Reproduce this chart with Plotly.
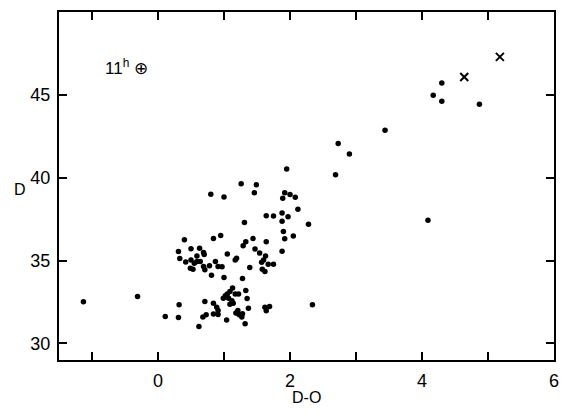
import plotly.graph_objects as go

# Filled-circle observations (D-O, D)
x_dots = [2.73, 2.90, 1.95, 2.69, 1.26, 1.49, 1.46, 0.80, 1.00, 1.92, 2.00, 2.08, 1.89, 2.12,
          1.64, 1.75, 1.88, 1.97, 1.88, 2.28, 1.31, 1.90, 2.05, 1.92, 0.40, 0.84, 0.95, 1.44,
          1.33, 1.29, 1.64, 0.50, 0.63, 1.47, 1.88, 0.31, 0.69, 0.70, 0.59, 0.33, 0.42, 0.50,
          0.55, 0.59, 0.64, 0.49, 0.53, 0.69, 0.71, 0.78, 0.87, 0.91, 0.97, 0.81, 1.05, 1.17,
          1.19, 1.54, 1.63, 1.60, 1.57, 1.67, 1.75, 1.58, 1.62, 1.39, 1.00, 1.28, 1.13, 1.09,
          1.05, 1.02, 0.99, 1.07, 1.17, 1.22, 1.33, 1.35, 1.12, 1.14, 1.09, 0.32, 0.71, 0.84,
          0.89, 0.91, 1.21, 1.18, 1.23, 1.28, 1.37, 1.62, 1.69, 1.64, 2.34, 0.73, 0.84, 0.91,
          0.68, 1.04, 1.27, 1.32, 0.62, 0.31, 0.11, 4.30, 4.17, 4.30, 4.87, 3.44, 4.09, -1.13,
          -0.31]
y_dots = [42.07, 41.43, 40.52, 40.18, 39.64, 39.58, 39.10, 39.00, 38.84, 39.10, 38.98, 38.82,
          38.76, 38.10, 37.71, 37.69, 37.87, 37.65, 37.37, 37.19, 37.29, 36.75, 36.49, 36.31,
          36.25, 36.33, 36.51, 36.33, 36.14, 35.89, 36.14, 35.72, 35.75, 35.70, 35.57, 35.54,
          35.48, 35.36, 35.28, 35.12, 34.92, 35.04, 34.84, 34.94, 34.94, 34.54, 34.48, 34.64,
          34.44, 34.68, 34.94, 34.64, 34.62, 34.12, 35.40, 35.04, 35.14, 35.45, 35.28, 35.04,
          34.90, 34.78, 34.78, 34.48, 34.34, 34.58, 33.98, 33.92, 33.34, 33.13, 32.99, 32.87,
          32.73, 32.73, 32.99, 32.99, 33.19, 32.71, 32.57, 32.43, 32.37, 32.33, 32.53, 32.43,
          32.19, 31.99, 31.99, 31.83, 31.73, 31.79, 32.13, 32.19, 32.23, 31.97, 32.33, 31.73,
          31.77, 31.75, 31.59, 31.41, 31.59, 31.19, 31.02, 31.57, 31.63, 45.72, 44.98, 44.62,
          44.44, 42.87, 37.43, 32.51, 32.83]

# Cross-marked observations
x_cross = [4.64, 5.18]
y_cross = [46.08, 47.29]

x_tickvals = [0, 2, 4, 6]
x_ticklabels = ["0", "2", "4", "6"]
y_tickvals = [30, 35, 40, 45]
y_ticklabels = ["30", "35", "40", "45"]

FONT = "Liberation Sans"

fig = go.Figure()
fig.add_trace(go.Scatter(x=x_dots, y=y_dots, mode="markers",
                         marker=dict(color="black", size=5.5, line=dict(width=0)),
                         showlegend=False, hoverinfo="skip"))
fig.add_trace(go.Scatter(x=x_cross, y=y_cross, mode="markers",
                         marker=dict(symbol="x-thin", color="black", size=8,
                                     line=dict(color="black", width=2)),
                         showlegend=False, hoverinfo="skip"))

axis_common = dict(showline=True, linecolor="black", linewidth=2, mirror="ticks",
                   ticks="inside", ticklen=8, tickwidth=1.5, tickcolor="black",
                   showgrid=False, zeroline=False, automargin=False,
                   tickfont=dict(family=FONT, size=18, color="black"))

fig.update_xaxes(range=[-1.5, 6.0], tickmode="array", tickvals=x_tickvals,
                 ticktext=x_ticklabels, ticklabelstandoff=3,
                 minor=dict(dtick=1, tick0=0, ticks="inside", ticklen=8, tickwidth=1.5,
                            tickcolor="black", showgrid=False),
                 **axis_common)
fig.update_yaxes(range=[29, 50], tickmode="array", tickvals=y_tickvals,
                 ticktext=y_ticklabels, ticklabelstandoff=3, **axis_common)

fig.add_annotation(x=0.5, y=-0.109, xref="paper", yref="paper", text="D-O",
                   showarrow=False, font=dict(family=FONT, size=16, color="black"),
                   xanchor="center", yanchor="middle")
fig.add_annotation(x=-0.079, y=0.489, xref="paper", yref="paper", text="D",
                   showarrow=False, font=dict(family=FONT, size=16, color="black"),
                   xanchor="center", yanchor="middle")
fig.add_annotation(x=-0.84, y=46.7, xref="x", yref="y", text="11<sup>h</sup> ⊕",
                   showarrow=False, font=dict(family=FONT, size=17, color="black"),
                   xanchor="left", yanchor="middle")

# page body adds an 8px offset; figure is sized so the plot frame lands where the reference has it
fig.update_layout(width=562, height=412, plot_bgcolor="white", paper_bgcolor="white",
                  margin=dict(l=51, r=16, t=4, b=60))

fig.write_html("out.html")
